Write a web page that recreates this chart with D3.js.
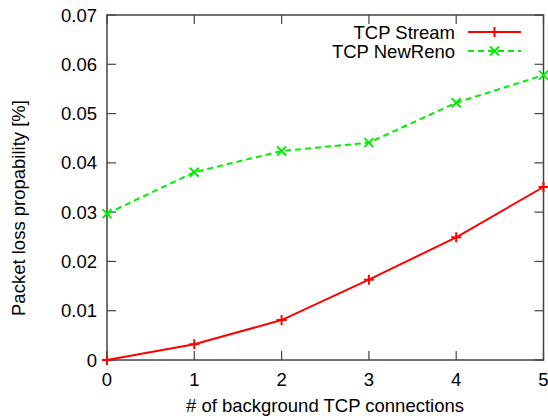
<!DOCTYPE html>
<html>
<head>
<meta charset="utf-8">
<script src="https://cdn.jsdelivr.net/npm/d3@7"></script>
<style>
  body { margin: 0; background: #fff; }
  text { font-family: "Liberation Sans", Arial, Helvetica, sans-serif; fill: #000; }
</style>
</head>
<body>
<div class="chart"></div>
<script>
'use strict';

const connections = [0, 1, 2, 3, 4, 5];
const streamLoss = [0, 0.0032, 0.0081, 0.0163, 0.0249, 0.0351];
const newRenoLoss = [0.0297, 0.0381, 0.0424, 0.0441, 0.0522, 0.0578];
const yTicks = [0, 0.01, 0.02, 0.03, 0.04, 0.05, 0.06, 0.07];
const seriesNames = ["TCP Stream", "TCP NewReno"];

(function() {
    const width = 548, height = 419;
    const left = 107, right = 543.5, top = 15, bottom = 360;
    const fontSize = '18.5px';

    let svg = d3.select('.chart').append('svg')
        .attr('width', width).attr('height', height);

    let xScale = d3.scaleLinear().domain([0, 5]).range([left, right]);
    let yScale = d3.scaleLinear().domain([0, 0.07]).range([bottom, top]);

    let axisColor = '#444';
    let tickLen = 9;

    // frame
    svg.append('rect')
        .attr('x', left).attr('y', top)
        .attr('width', right - left).attr('height', bottom - top)
        .attr('fill', 'none').attr('stroke', axisColor).attr('stroke-width', 1.5);

    // y ticks (left and right, inward)
    yTicks.forEach(function(t) {
        let y = yScale(t);
        svg.append('line').attr('x1', left).attr('x2', left + tickLen)
            .attr('y1', y).attr('y2', y).attr('stroke', axisColor).attr('stroke-width', 1.2);
        svg.append('line').attr('x1', right).attr('x2', right - tickLen)
            .attr('y1', y).attr('y2', y).attr('stroke', axisColor).attr('stroke-width', 1.2);
        svg.append('text')
            .attr('x', left - 10).attr('y', y + 6.5)
            .attr('text-anchor', 'end')
            .style('font-size', fontSize)
            .text(t === 0 ? '0' : d3.format('.2f')(t));
    });

    // x ticks (bottom and top, inward)
    connections.forEach(function(c) {
        let x = xScale(c);
        svg.append('line').attr('x1', x).attr('x2', x)
            .attr('y1', bottom).attr('y2', bottom - tickLen).attr('stroke', axisColor).attr('stroke-width', 1.2);
        svg.append('line').attr('x1', x).attr('x2', x)
            .attr('y1', top).attr('y2', top + tickLen).attr('stroke', axisColor).attr('stroke-width', 1.2);
        svg.append('text')
            .attr('x', x).attr('y', 386)
            .attr('text-anchor', 'middle')
            .style('font-size', fontSize)
            .text(c);
    });

    // axis labels
    svg.append('text')
        .attr('x', 325).attr('y', 412)
        .attr('text-anchor', 'middle')
        .style('font-size', fontSize)
        .text('# of background TCP connections');

    svg.append('text')
        .attr('transform', 'translate(25, 208)rotate(-90)')
        .attr('text-anchor', 'middle')
        .style('font-size', fontSize)
        .text('Packet loss propability [%]');

    let line = d3.line()
        .x(function(d, i) { return xScale(connections[i]); })
        .y(function(d) { return yScale(d); });

    function plusPath(x, y, s) {
        return 'M' + (x - s) + ',' + y + 'H' + (x + s) + 'M' + x + ',' + (y - s) + 'V' + (y + s);
    }
    function crossPath(x, y, s) {
        return 'M' + (x - s) + ',' + (y - s) + 'L' + (x + s) + ',' + (y + s) +
               'M' + (x - s) + ',' + (y + s) + 'L' + (x + s) + ',' + (y - s);
    }

    let plot = svg.append('g');

    // TCP Stream
    plot.append('path')
        .attr('d', line(streamLoss))
        .attr('fill', 'none').attr('stroke', '#ff0000').attr('stroke-width', 2);
    plot.selectAll('.plus')
        .data(streamLoss).enter()
        .append('path')
        .attr('d', function(d, i) { return plusPath(xScale(connections[i]), yScale(d), 5); })
        .attr('stroke', '#ff0000').attr('stroke-width', 2);

    // TCP NewReno
    plot.append('path')
        .attr('d', line(newRenoLoss))
        .attr('fill', 'none').attr('stroke', '#00ee00').attr('stroke-width', 2)
        .attr('stroke-dasharray', '6,4');
    plot.selectAll('.cross')
        .data(newRenoLoss).enter()
        .append('path')
        .attr('d', function(d, i) { return crossPath(xScale(connections[i]), yScale(d), 4.5); })
        .attr('stroke', '#00ee00').attr('stroke-width', 2);

    // legend
    let legendY = [32, 51];
    let colors = ['#ff0000', '#00ee00'];
    seriesNames.forEach(function(name, i) {
        svg.append('text')
            .attr('x', 455).attr('y', legendY[i] + 6.5)
            .attr('text-anchor', 'end')
            .style('font-size', fontSize)
            .text(name);
        svg.append('line')
            .attr('x1', 468).attr('x2', 521)
            .attr('y1', legendY[i]).attr('y2', legendY[i])
            .attr('stroke', colors[i]).attr('stroke-width', 2)
            .attr('stroke-dasharray', i === 1 ? '6,4' : null);
        svg.append('path')
            .attr('d', i === 0 ? plusPath(494.5, legendY[i], 5) : crossPath(494.5, legendY[i], 4.5))
            .attr('stroke', colors[i]).attr('stroke-width', 2);
    });
})();
</script>
</body>
</html>
